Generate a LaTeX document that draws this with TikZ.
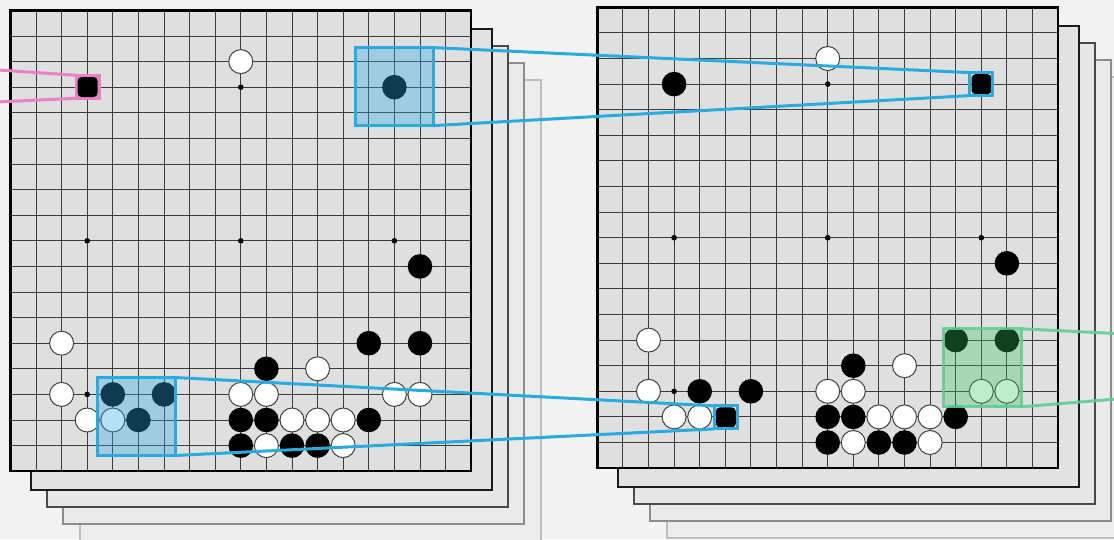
\documentclass[tikz,border=0pt]{standalone}
\usetikzlibrary{calc}
\definecolor{bgc}{HTML}{F2F2F2}
\definecolor{boardc}{HTML}{DFDFDF}
\definecolor{gridc}{HTML}{3C3C3C}
\definecolor{layAd}{HTML}{1A1A1A}
\definecolor{layBd}{HTML}{4A4A4A}
\definecolor{layCd}{HTML}{8C8C8C}
\definecolor{layDd}{HTML}{BDBDBD}
\definecolor{layAf}{HTML}{E2E2E2}
\definecolor{layBf}{HTML}{E7E7E7}
\definecolor{layCf}{HTML}{EAEAEA}
\definecolor{layDf}{HTML}{EDEDED}
\definecolor{blueh}{RGB}{41,171,226}
\definecolor{greenh}{RGB}{55,200,100}
\definecolor{greenl}{RGB}{100,205,145}
\definecolor{pinkh}{RGB}{236,128,196}
\tikzset{
  gridline/.style={draw=gridc, line width=1.2},
  boardedge/.style={draw=black, line width=2.5},
  wstone/.style={fill=white, draw=black!75, line width=1},
  bstone/.style={fill=black},
  bsquare/.style={fill=black, rounded corners=4pt, minimum size=20, inner sep=0, outer sep=0},
  bigblue/.style={draw=blueh, line width=3, fill=blueh, fill opacity=0.35, minimum size=78, inner sep=0, outer sep=0},
  smallblue/.style={draw=blueh, line width=3, minimum size=23, inner sep=0, outer sep=0},
  biggreen/.style={draw=greenl, draw opacity=0.9, line width=3, fill=greenh, fill opacity=0.32, minimum size=78, inner sep=0, outer sep=0},
  smallpink/.style={draw=pinkh, line width=2.5, fill=pinkh, minimum size=23, inner sep=0, outer sep=0},
  blueline/.style={draw=blueh, line width=3},
  greenline/.style={draw=greenl, draw opacity=0.9, line width=3},
  pinkline/.style={draw=pinkh, line width=3},
}
\newcommand\drawgoboard[2]{%
  \begin{scope}[shift={(#1,#2)}]
    \foreach \dx/\dy/\dc/\fc in {70/70/layDd/layDf, 53/53/layCd/layCf, 37/36/layBd/layBf, 21/19/layAd/layAf}
      \draw[line width=2, draw=\dc, fill=\fc] (\dx,\dy) rectangle ++(460.8,460.8);
    \fill[boardc] (0,0) rectangle (460.8,460.8);
  \end{scope}
  \foreach \i in {1,...,17} {
    \pgfmathsetmacro\gpx{floor(#1+\i*25.6)+0.5}
    \pgfmathsetmacro\gpy{floor(#2+\i*25.6)+0.5}
    \draw[gridline] (\gpx,#2) -- (\gpx,#2+460.8);
    \draw[gridline] (#1,\gpy) -- (#1+460.8,\gpy);
  }
  \begin{scope}[shift={(#1,#2)}]
    \draw[boardedge] (0,0) rectangle (460.8,460.8);
    \foreach \c/\r in {3/3,9/3,15/3,3/9,9/9,15/9,3/15,9/15,15/15}
      \fill (\c*25.6,\r*25.6) circle (2.8pt);
  \end{scope}}
\newcommand\drawstones[4]{%
  \foreach \c/\r in {#3}
    \draw[wstone] (#1+\c*25.6,#2+\r*25.6) circle (12pt);
  \foreach \c/\r in {#4}
    \fill[bstone] (#1+\c*25.6,#2+\r*25.6) circle (12.3pt);
}
\begin{document}
\begin{tikzpicture}[x=1pt,y=-1pt]
  \useasboundingbox (0,0) rectangle (1114,539);
  \clip (0,0) rectangle (1114,539);
  \fill[bgc] (0,0) rectangle (1114,539);

  % boards
  \drawgoboard{10.4}{10.4}
  \drawgoboard{597.3}{7.3}

  % stones, left board
  \drawstones{10.4}{10.4}%
    {9/2, 2/13, 12/14, 2/15, 9/15, 10/15, 15/15, 16/15, 3/16, 4/16, 11/16, 12/16, 13/16, 10/17, 13/17}%
    {15/3, 16/10, 14/13, 16/13, 10/14, 4/15, 6/15, 5/16, 9/16, 10/16, 14/16, 9/17, 11/17, 12/17}
  % stones, right board
  \drawstones{597.3}{7.3}%
    {9/2, 2/13, 12/14, 2/15, 9/15, 10/15, 15/15, 16/15, 3/16, 4/16, 11/16, 12/16, 13/16, 10/17, 13/17}%
    {3/3, 16/10, 14/13, 16/13, 10/14, 4/15, 6/15, 9/16, 10/16, 14/16, 9/17, 11/17, 12/17}

  % highlight boxes
  \node[smallpink] (pbox) at (87.9,86.8) {};
  \node[bsquare] (psq) at (87.6,87) {};
  \node[bigblue] (lboxA) at (394.3,86.6) {};
  \node[bigblue] (lboxB) at (136,416.5) {};
  \node[bsquare] (rsqA) at (981.5,84.2) {};
  \node[smallblue] (rboxA) at (981.3,84.1) {};
  \node[bsquare] (rsqB) at (725.8,417.4) {};
  \node[smallblue] (rboxB) at (725.8,417.4) {};
  \node[biggreen] (gbox) at (982.2,367.8) {};

  % free ends
  \coordinate (pinkA) at (-4,69.8);
  \coordinate (pinkB) at (-4,102);
  \coordinate (greenA) at (1120,333.7);
  \coordinate (greenB) at (1120,398.7);

  % connectors
  \draw[pinkline] (pinkA) -- (pbox.north west);
  \draw[pinkline] (pinkB) -- (pbox.south west);
  \draw[blueline] (lboxA.north east) -- (rboxA.north west);
  \draw[blueline] (lboxA.south east) -- (rboxA.south west);
  \draw[blueline] (lboxB.north east) -- (rboxB.north west);
  \draw[blueline] (lboxB.south east) -- (rboxB.south west);
  \draw[greenline] (gbox.north east) -- (greenA);
  \draw[greenline] (gbox.south east) -- (greenB);
\end{tikzpicture}
\end{document}
